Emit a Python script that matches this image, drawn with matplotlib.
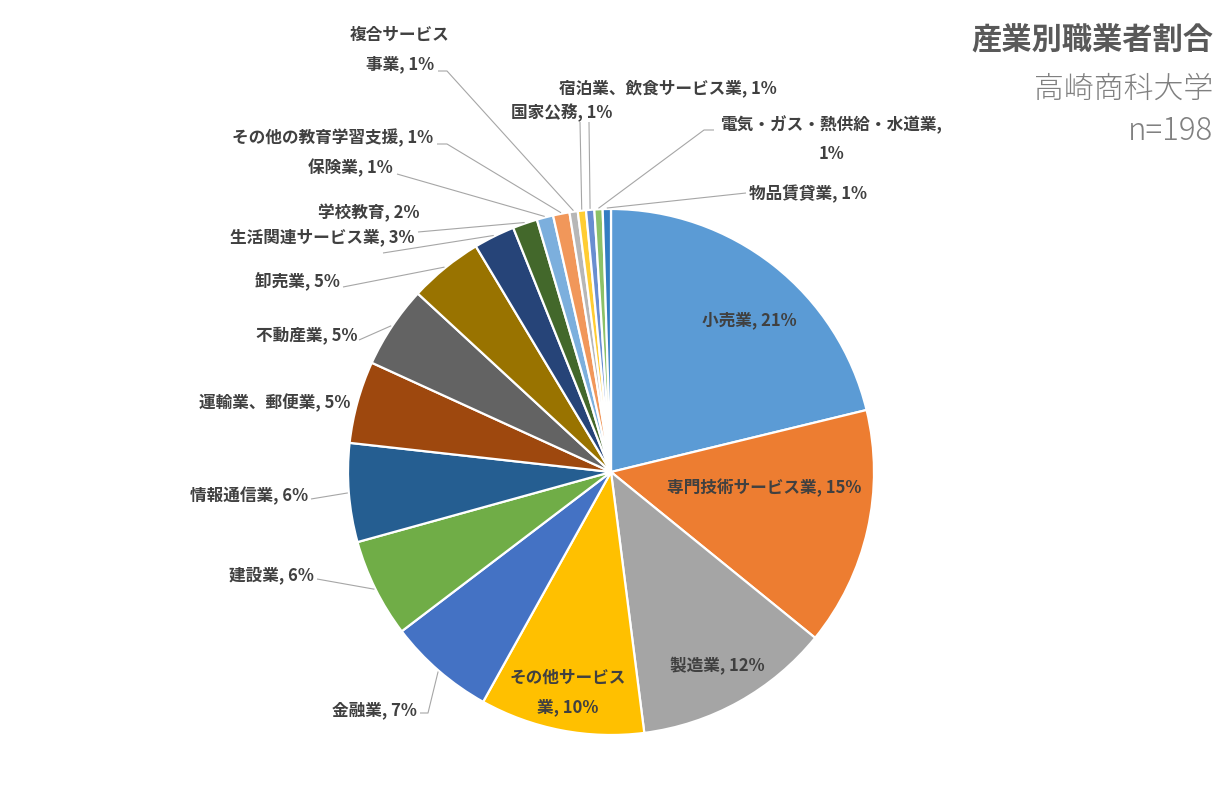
import matplotlib
matplotlib.use('Agg')
import matplotlib.pyplot as plt
import numpy as np

plt.rcParams['font.family'] = ['Noto Sans CJK JP', 'DejaVu Sans']

# ---------------- data ----------------
categories = ['小売業', '専門技術サービス業', '製造業', 'その他サービス業', '金融業',
              '建設業', '情報通信業', '運輸業、郵便業', '不動産業', '卸売業',
              '生活関連サービス業', '学校教育', '保険業', 'その他の教育学習支援',
              '複合サービス事業', '国家公務', '宿泊業、飲食サービス業',
              '電気・ガス・熱供給・水道業', '物品賃貸業']
counts = [42, 29, 24, 20, 13, 12, 12, 10, 10, 9, 5, 3, 2, 2, 1, 1, 1, 1, 1]
title = '産業別職業者割合'
subtitle = '高崎商科大学'
n_label = 'n=198'

colors = ['#5B9BD5', '#ED7D31', '#A5A5A5', '#FFC000', '#4472C4', '#70AD47',
          '#255E91', '#9E480E', '#636363', '#997300', '#264478', '#43682B',
          '#7CAFDD', '#F1975A', '#B7B7B7', '#FFCD33', '#698ED0', '#8CC168',
          '#327DC2']

# ---------------- figure ----------------
W, H = 1221, 797
fig = plt.figure(figsize=(W / 100, H / 100), dpi=100)
ax = fig.add_axes([0, 0, 1, 1])

cx, cy, R = 611, 472, 263
wedges, _ = ax.pie(counts, colors=colors, startangle=-90, counterclock=True,
                   radius=R, center=(cx, cy),
                   wedgeprops=dict(edgecolor='white', linewidth=1.6))
ax.set_xlim(0, W)
ax.set_ylim(H, 0)
ax.set_aspect('equal')
ax.axis('off')

total = sum(counts)
pcts = [int(c / total * 100 + 0.5) for c in counts]

# label text lines (wrapping as in the original)
def label_lines(i):
    name = categories[i]
    s = f'{name}, {pcts[i]}%'
    if name == 'その他サービス業':
        return ['その他サービス', f'業, {pcts[i]}%']
    if name == '複合サービス事業':
        return ['複合サービス', f'事業, {pcts[i]}%']
    if name == '電気・ガス・熱供給・水道業':
        return [f'{name},', f'{pcts[i]}%']
    return [s]

# layout: (x, y of first line, ha, leader start points)
layout = [
    (749, 320, 'center', None),
    (764, 488, 'center', None),
    (717, 666, 'center', None),
    (568, 678, 'center', None),
    (417, 710, 'right', [(420, 713), (428, 713)]),
    (314, 575, 'right', [(317, 579)]),
    (308, 496, 'right', [(311, 499)]),
    (350, 403, 'right', None),
    (357, 335, 'right', [(359, 340)]),
    (340, 281, 'right', [(343, 287)]),
    (414, 237, 'right', [(383, 253)]),
    (420, 213, 'right', [(418, 232)]),
    (393, 168, 'right', [(397, 174)]),
    (433, 138, 'right', [(437, 144), (447, 144)]),
    (400, 35, 'center', [(438, 71), (447, 71)]),
    (562, 113, 'center', [(580, 122)]),
    (668, 88, 'center', [(589, 122)]),
    (831, 125, 'center', [(714, 130), (704, 130)]),
    (749, 194, 'left', [(746, 193)]),
]

line_gap = 29
for i, w in enumerate(wedges):
    x, y, ha, pts = layout[i]
    for k, ln in enumerate(label_lines(i)):
        ax.text(x, y + k * line_gap, ln, ha=ha, va='center', fontsize=12,
                color='#404040', fontweight='bold')
    if pts:
        mid = np.deg2rad((w.theta1 + w.theta2) / 2)
        ex = cx + (R + 1) * np.cos(mid)
        ey = cy + (R + 1) * np.sin(mid)
        xs = [p[0] for p in pts] + [ex]
        ys = [p[1] for p in pts] + [ey]
        ax.plot(xs, ys, color='#a6a6a6', lw=0.8, solid_capstyle='butt')

ax.text(1213, 40, title, ha='right', va='center', fontsize=21.8,
        fontweight='bold', color='#595959')
ax.text(1213, 90, subtitle, ha='right', va='center', fontsize=21.5,
        fontweight='light', color='#808080')
ax.text(1213, 131, n_label, ha='right', va='center', fontsize=22.5,
        fontweight='light', color='#808080')

fig.savefig('out.png', dpi=100, facecolor='white')
